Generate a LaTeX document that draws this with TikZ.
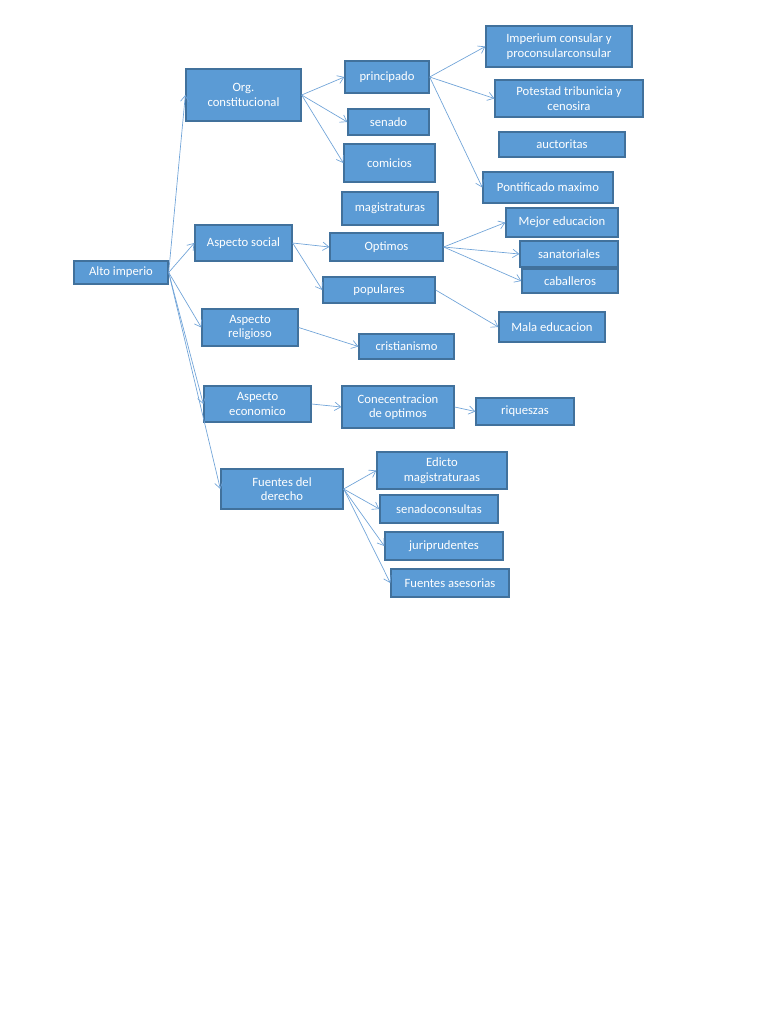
\documentclass[tikz,border=0pt]{standalone}
\usepackage{fontspec}
\setmainfont{Carlito}
\usetikzlibrary{arrows.meta, positioning}
\definecolor{boxfill}{HTML}{5B9BD5}
\definecolor{boxline}{HTML}{41719C}
\definecolor{linkblue}{HTML}{6FA3D8}
\tikzset{%
>={Straight Barb[length=1.6mm,width=2.2mm]},
  % Specifications for style of nodes and connectors:
            box/.style = {rectangle, draw=boxline, line width=1pt,
                            fill=boxfill, text=white, inner sep=1pt,
                            font=\fontsize{9.5}{11}\selectfont, align=center},
            wh/.style 2 args = {minimum width=#1*0.75pt, minimum height=#2*0.75pt},
            link/.style = {->, draw=linkblue, line width=0.5pt}
}
\begin{document}
\begin{tikzpicture}[x=0.75pt, y=-0.75pt, every node/.style={box}]
                        \fill[white] (0,0) rectangle (768,1024);
                        \useasboundingbox (0,0) rectangle (768,1024);
                        % first level
                        \node[wh={94}{23}] (alto) at (121,272.5) {Alto imperio};
                        \node[wh={115}{52}] (org) at (243.5,95) {Org.\\constitucional};
                        \node[wh={97}{36}] (social) at (243.5,243) {Aspecto social};
                        \node[wh={96}{37}] (relig) at (250,327.5) {Aspecto\\religioso};
                        \node[wh={107}{36}] (econ) at (257.5,404) {Aspecto\\economico};
                        \node[wh={122}{40}] (fuentes) at (282,489) {Fuentes del\\derecho};
                        % second level
                        \node[wh={84}{32}] (princ) at (387,77) {principado};
                        \node[wh={81}{26}] (senado) at (388.5,122) {senado};
                        \node[wh={91}{38}] (comicios) at (389.5,163) {comicios};
                        \node[wh={96}{33}] (magis) at (390,208.5) {magistraturas};
                        \node[wh={113}{28}] (optimos) at (386.5,247) {Optimos};
                        \node[wh={112}{26}] (popul) at (379,290) {populares};
                        \node[wh={95}{25}] (crist) at (406.5,346.5) {cristianismo};
                        \node[wh={112}{42}] (conc) at (398,407) {Conecentracion\\de optimos};
                        \node[wh={130}{37}] (edicto) at (442,470.5) {Edicto\\magistraturaas};
                        \node[wh={118}{28}] (senadoc) at (439,509) {senadoconsultas};
                        \node[wh={118}{28}] (juri) at (444,546) {juriprudentes};
                        \node[wh={118}{28}] (aseso) at (450,583) {Fuentes asesorias};
                        % third level
                        \node[wh={146}{41}] (imper) at (559,46.5) {Imperium consular y\\proconsularconsular};
                        \node[wh={148}{37}] (potes) at (569,98.5) {Potestad tribunicia y\\cenosira};
                        \node[wh={126}{25}] (auct) at (562,144.5) {auctoritas};
                        \node[wh={130}{31}] (pontif) at (548,187.5) {Pontificado maximo};
                        \node[wh={112}{29}] (mejor) at (562,222.5) {Mejor educacion};
                        \node[wh={98}{26}] (sanat) at (569,254) {sanatoriales};
                        \node[wh={96}{24}] (caball) at (570,281) {caballeros};
                        \node[wh={106}{30}] (mala) at (552,327) {Mala educacion};
                        \node[wh={98}{27}] (riq) at (525,411.5) {riqueszas};
                        % connectors
                        \foreach \a/\b in {alto/org, alto/social, alto/relig, alto/econ, alto/fuentes,
                            org/princ, org/senado, org/comicios, princ/imper, princ/potes, princ/pontif,
                            social/optimos, social/popul, optimos/mejor, optimos/sanat, optimos/caball,
                            popul/mala, relig/crist, econ/conc, conc/riq,
                            fuentes/edicto, fuentes/senadoc, fuentes/juri, fuentes/aseso}{
                                \draw[link] (\a.east) -- (\b.west);
                        }
                    \end{tikzpicture}
\end{document}
